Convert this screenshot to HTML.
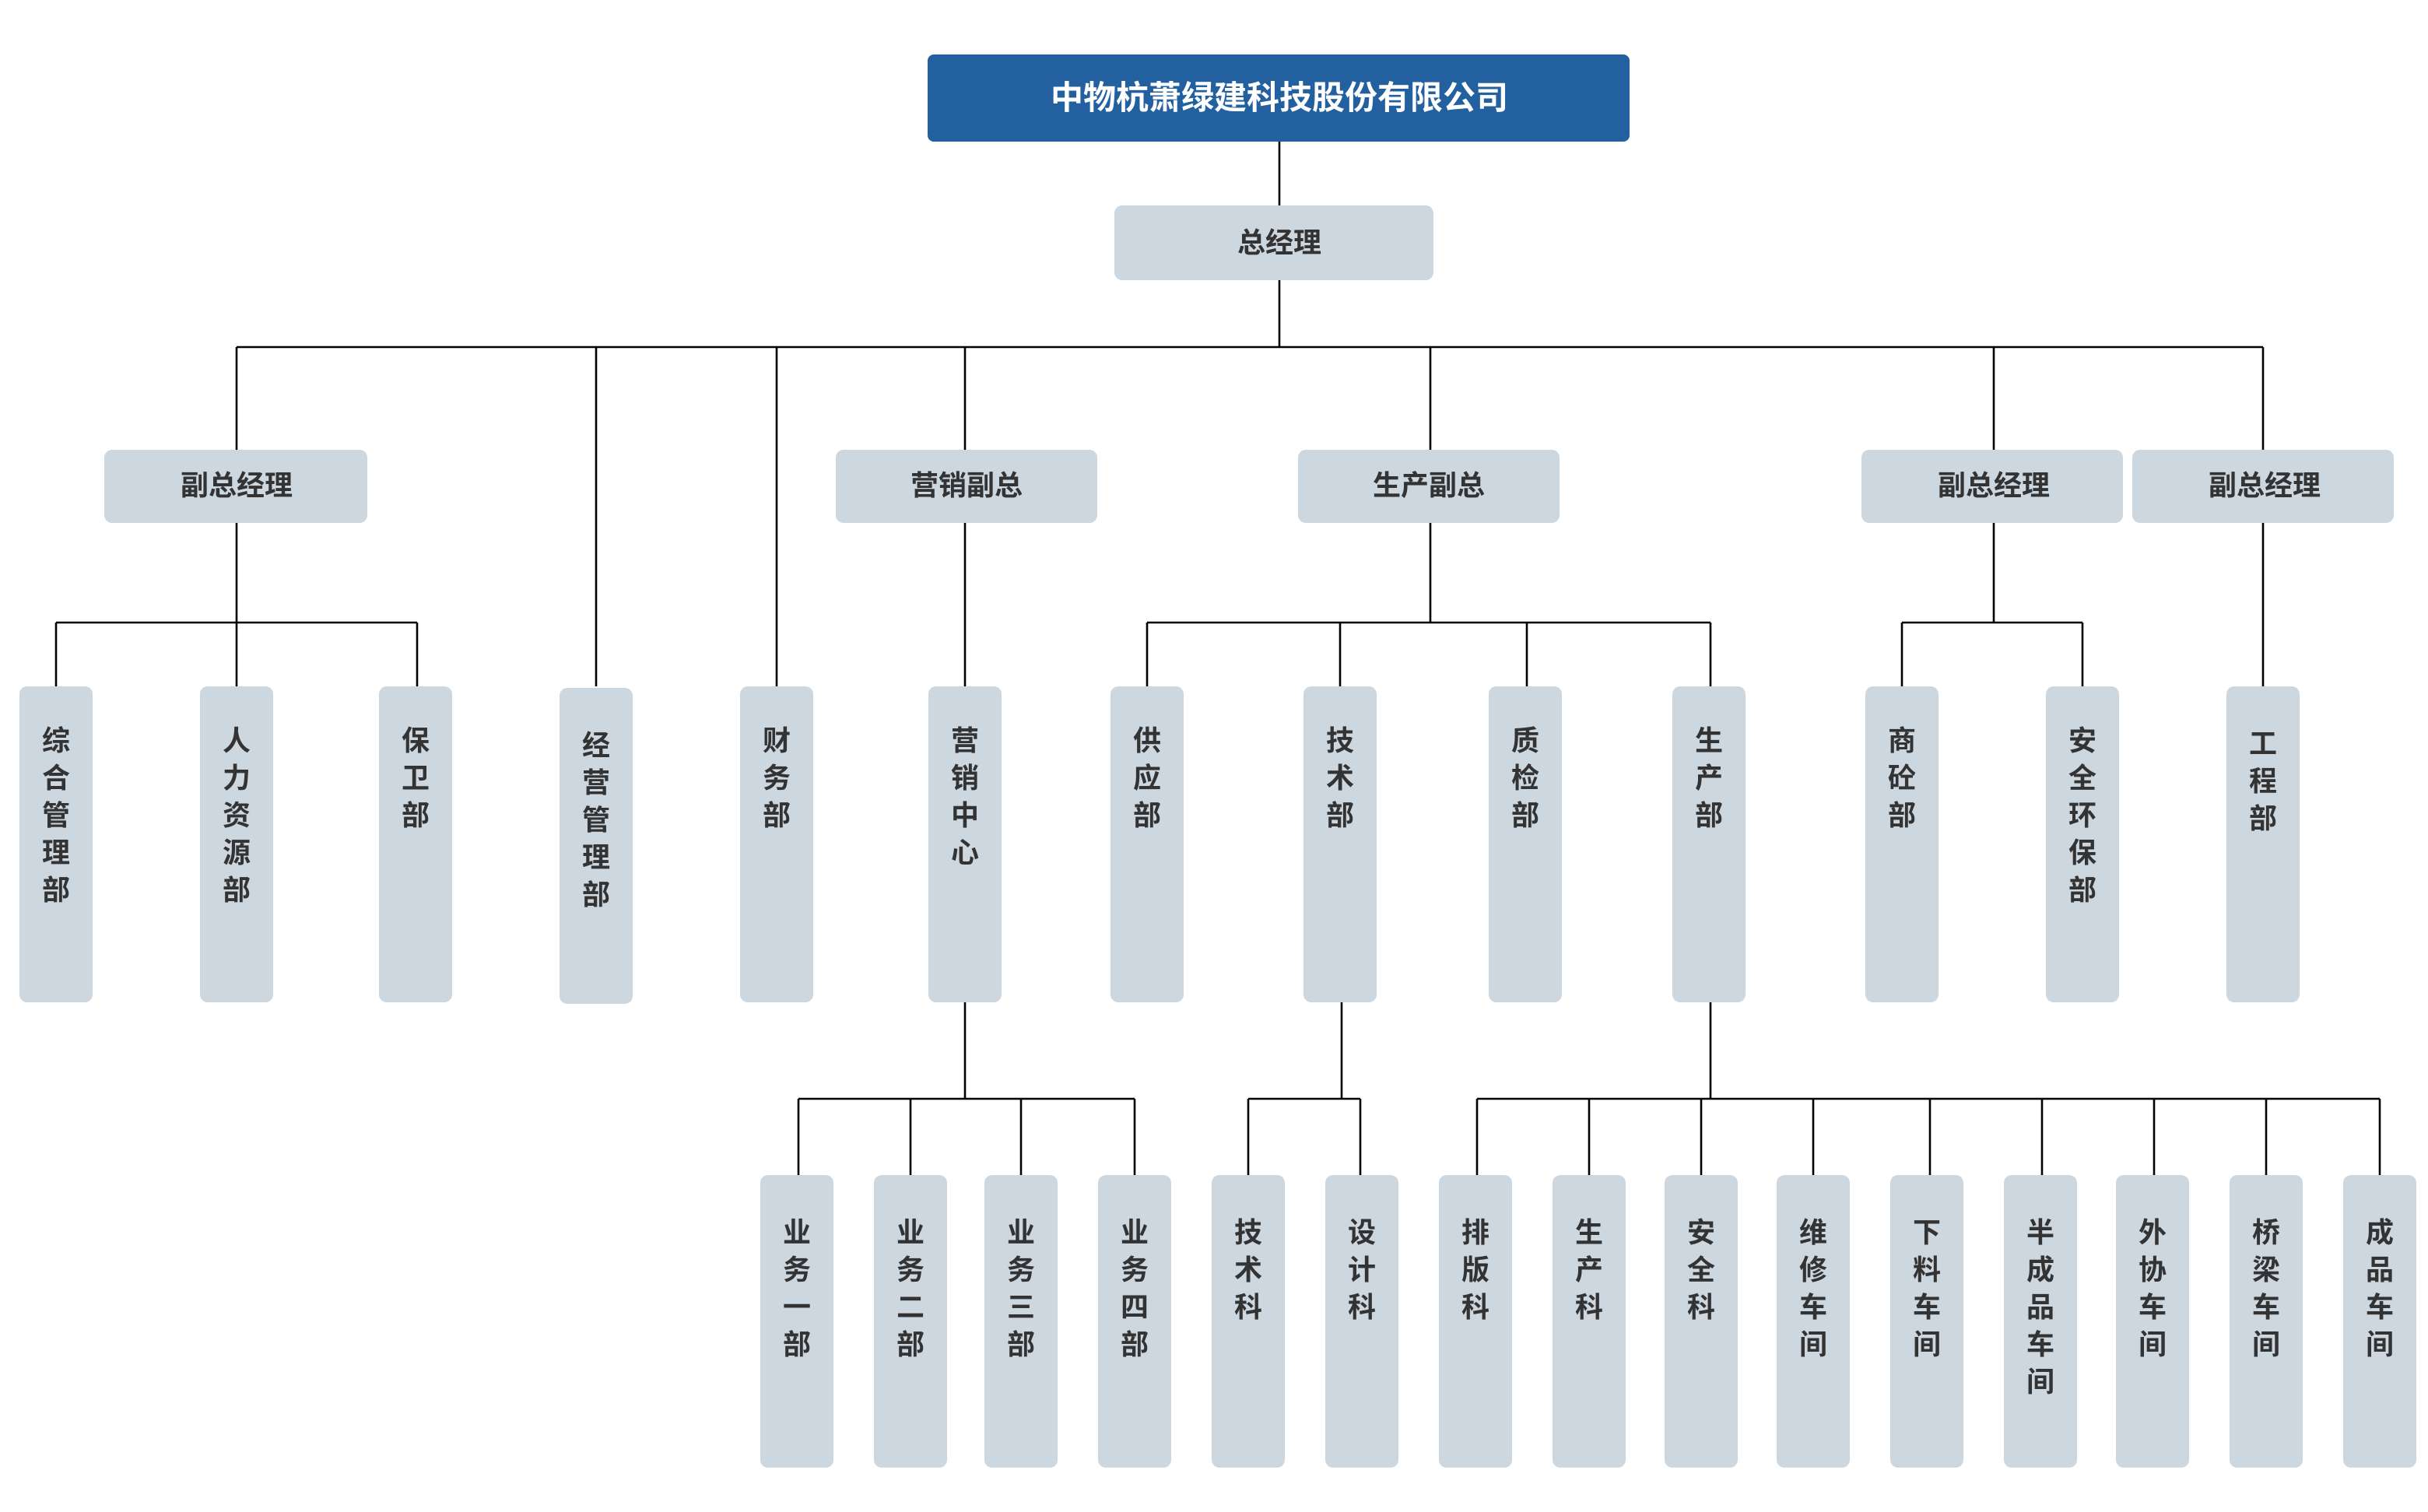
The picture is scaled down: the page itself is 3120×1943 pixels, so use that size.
<!DOCTYPE html>
<html><head><meta charset="utf-8"><style>
html,body{margin:0;padding:0;background:#fff;width:3120px;height:1943px;overflow:hidden}
svg{display:block}
text{font-family:"Liberation Sans","Noto Sans CJK SC",sans-serif;font-weight:bold;fill:#333}
</style></head><body>
<svg width="3120" height="1943" viewBox="0 0 1560 971.5" xmlns="http://www.w3.org/2000/svg">
<g stroke="#000" stroke-width="1.3" fill="none">
<line x1="822" y1="91" x2="822" y2="132"/>
<line x1="822" y1="180" x2="822" y2="223"/>
<line x1="152" y1="223" x2="1454" y2="223"/>
<line x1="152" y1="223" x2="152" y2="289"/>
<line x1="383" y1="223" x2="383" y2="441"/>
<line x1="499" y1="223" x2="499" y2="441"/>
<line x1="620" y1="223" x2="620" y2="441"/>
<line x1="919" y1="223" x2="919" y2="289"/>
<line x1="1281" y1="223" x2="1281" y2="289"/>
<line x1="1454" y1="223" x2="1454" y2="441"/>
<line x1="152" y1="336" x2="152" y2="441"/>
<line x1="36" y1="400" x2="268" y2="400"/>
<line x1="36" y1="400" x2="36" y2="441"/>
<line x1="268" y1="400" x2="268" y2="441"/>
<line x1="919" y1="336" x2="919" y2="400"/>
<line x1="737" y1="400" x2="1099" y2="400"/>
<line x1="737" y1="400" x2="737" y2="441"/>
<line x1="861" y1="400" x2="861" y2="441"/>
<line x1="981" y1="400" x2="981" y2="441"/>
<line x1="1099" y1="400" x2="1099" y2="441"/>
<line x1="1281" y1="336" x2="1281" y2="400"/>
<line x1="1222" y1="400" x2="1338" y2="400"/>
<line x1="1222" y1="400" x2="1222" y2="441"/>
<line x1="1338" y1="400" x2="1338" y2="441"/>
<line x1="620" y1="644" x2="620" y2="706"/>
<line x1="513" y1="706" x2="729" y2="706"/>
<line x1="513" y1="706" x2="513" y2="755"/>
<line x1="585" y1="706" x2="585" y2="755"/>
<line x1="656" y1="706" x2="656" y2="755"/>
<line x1="729" y1="706" x2="729" y2="755"/>
<line x1="862" y1="644" x2="862" y2="706"/>
<line x1="802" y1="706" x2="874" y2="706"/>
<line x1="802" y1="706" x2="802" y2="755"/>
<line x1="874" y1="706" x2="874" y2="755"/>
<line x1="1099" y1="644" x2="1099" y2="706"/>
<line x1="949" y1="706" x2="1529" y2="706"/>
<line x1="949" y1="706" x2="949" y2="755"/>
<line x1="1021" y1="706" x2="1021" y2="755"/>
<line x1="1093" y1="706" x2="1093" y2="755"/>
<line x1="1165" y1="706" x2="1165" y2="755"/>
<line x1="1240" y1="706" x2="1240" y2="755"/>
<line x1="1312" y1="706" x2="1312" y2="755"/>
<line x1="1384" y1="706" x2="1384" y2="755"/>
<line x1="1456" y1="706" x2="1456" y2="755"/>
<line x1="1529" y1="706" x2="1529" y2="755"/>
</g>
<rect x="596" y="35" width="451" height="56" rx="4" fill="#2260a0"/>
<text x="822" y="70" text-anchor="middle" font-size="21" style="fill:#fff">中物杭萧绿建科技股份有限公司</text>
<g fill="#cdd7e0">
<rect x="716" y="132" width="205" height="48" rx="5"/>
<rect x="67" y="289" width="169" height="47" rx="5"/>
<rect x="537" y="289" width="168" height="47" rx="5"/>
<rect x="834" y="289" width="168" height="47" rx="5"/>
<rect x="1196" y="289" width="168" height="47" rx="5"/>
<rect x="1370" y="289" width="168" height="47" rx="5"/>
</g>
<g font-size="18" text-anchor="middle">
<text x="822" y="162">总经理</text>
<text x="152" y="318">副总经理</text>
<text x="621" y="318">营销副总</text>
<text x="918" y="318">生产副总</text>
<text x="1281" y="318">副总经理</text>
<text x="1455" y="318">副总经理</text>
</g>
<g fill="#cdd7e0">
<rect x="12.5" y="441" width="47" height="203" rx="5"/>
<rect x="128.5" y="441" width="47" height="203" rx="5"/>
<rect x="243.5" y="441" width="47" height="203" rx="5"/>
<rect x="359.5" y="442" width="47" height="203" rx="5"/>
<rect x="475.5" y="441" width="47" height="203" rx="5"/>
<rect x="596.5" y="441" width="47" height="203" rx="5"/>
<rect x="713.5" y="441" width="47" height="203" rx="5"/>
<rect x="837.5" y="441" width="47" height="203" rx="5"/>
<rect x="956.5" y="441" width="47" height="203" rx="5"/>
<rect x="1074.5" y="441" width="47" height="203" rx="5"/>
<rect x="1198.5" y="441" width="47" height="203" rx="5"/>
<rect x="1314.5" y="441" width="47" height="203" rx="5"/>
<rect x="1430.5" y="441" width="47" height="203" rx="5"/>
<rect x="488.5" y="755" width="47" height="188" rx="5"/>
<rect x="561.5" y="755" width="47" height="188" rx="5"/>
<rect x="632.5" y="755" width="47" height="188" rx="5"/>
<rect x="705.5" y="755" width="47" height="188" rx="5"/>
<rect x="778.5" y="755" width="47" height="188" rx="5"/>
<rect x="851.5" y="755" width="47" height="188" rx="5"/>
<rect x="924.5" y="755" width="47" height="188" rx="5"/>
<rect x="997.5" y="755" width="47" height="188" rx="5"/>
<rect x="1069.5" y="755" width="47" height="188" rx="5"/>
<rect x="1141.5" y="755" width="47" height="188" rx="5"/>
<rect x="1214.5" y="755" width="47" height="188" rx="5"/>
<rect x="1287.5" y="755" width="47" height="188" rx="5"/>
<rect x="1359.5" y="755" width="47" height="188" rx="5"/>
<rect x="1432.5" y="755" width="47" height="188" rx="5"/>
<rect x="1505.5" y="755" width="47" height="188" rx="5"/>
</g>
<g font-size="18" text-anchor="middle">
<text y="482"><tspan x="36">综</tspan><tspan x="36" dy="24">合</tspan><tspan x="36" dy="24">管</tspan><tspan x="36" dy="24">理</tspan><tspan x="36" dy="24">部</tspan></text>
<text y="482"><tspan x="152">人</tspan><tspan x="152" dy="24">力</tspan><tspan x="152" dy="24">资</tspan><tspan x="152" dy="24">源</tspan><tspan x="152" dy="24">部</tspan></text>
<text y="482"><tspan x="267">保</tspan><tspan x="267" dy="24">卫</tspan><tspan x="267" dy="24">部</tspan></text>
<text y="485"><tspan x="383">经</tspan><tspan x="383" dy="24">营</tspan><tspan x="383" dy="24">管</tspan><tspan x="383" dy="24">理</tspan><tspan x="383" dy="24">部</tspan></text>
<text y="482"><tspan x="499">财</tspan><tspan x="499" dy="24">务</tspan><tspan x="499" dy="24">部</tspan></text>
<text y="482"><tspan x="620">营</tspan><tspan x="620" dy="24">销</tspan><tspan x="620" dy="24">中</tspan><tspan x="620" dy="24">心</tspan></text>
<text y="482"><tspan x="737">供</tspan><tspan x="737" dy="24">应</tspan><tspan x="737" dy="24">部</tspan></text>
<text y="482"><tspan x="861">技</tspan><tspan x="861" dy="24">术</tspan><tspan x="861" dy="24">部</tspan></text>
<text y="482"><tspan x="980">质</tspan><tspan x="980" dy="24">检</tspan><tspan x="980" dy="24">部</tspan></text>
<text y="482"><tspan x="1098">生</tspan><tspan x="1098" dy="24">产</tspan><tspan x="1098" dy="24">部</tspan></text>
<text y="482"><tspan x="1222">商</tspan><tspan x="1222" dy="24">砼</tspan><tspan x="1222" dy="24">部</tspan></text>
<text y="482"><tspan x="1338">安</tspan><tspan x="1338" dy="24">全</tspan><tspan x="1338" dy="24">环</tspan><tspan x="1338" dy="24">保</tspan><tspan x="1338" dy="24">部</tspan></text>
<text y="484"><tspan x="1454">工</tspan><tspan x="1454" dy="24">程</tspan><tspan x="1454" dy="24">部</tspan></text>
<text y="798"><tspan x="512">业</tspan><tspan x="512" dy="24">务</tspan><tspan x="512" dy="24">一</tspan><tspan x="512" dy="24">部</tspan></text>
<text y="798"><tspan x="585">业</tspan><tspan x="585" dy="24">务</tspan><tspan x="585" dy="24">二</tspan><tspan x="585" dy="24">部</tspan></text>
<text y="798"><tspan x="656">业</tspan><tspan x="656" dy="24">务</tspan><tspan x="656" dy="24">三</tspan><tspan x="656" dy="24">部</tspan></text>
<text y="798"><tspan x="729">业</tspan><tspan x="729" dy="24">务</tspan><tspan x="729" dy="24">四</tspan><tspan x="729" dy="24">部</tspan></text>
<text y="798"><tspan x="802">技</tspan><tspan x="802" dy="24">术</tspan><tspan x="802" dy="24">科</tspan></text>
<text y="798"><tspan x="875">设</tspan><tspan x="875" dy="24">计</tspan><tspan x="875" dy="24">科</tspan></text>
<text y="798"><tspan x="948">排</tspan><tspan x="948" dy="24">版</tspan><tspan x="948" dy="24">科</tspan></text>
<text y="798"><tspan x="1021">生</tspan><tspan x="1021" dy="24">产</tspan><tspan x="1021" dy="24">科</tspan></text>
<text y="798"><tspan x="1093">安</tspan><tspan x="1093" dy="24">全</tspan><tspan x="1093" dy="24">科</tspan></text>
<text y="798"><tspan x="1165">维</tspan><tspan x="1165" dy="24">修</tspan><tspan x="1165" dy="24">车</tspan><tspan x="1165" dy="24">间</tspan></text>
<text y="798"><tspan x="1238">下</tspan><tspan x="1238" dy="24">料</tspan><tspan x="1238" dy="24">车</tspan><tspan x="1238" dy="24">间</tspan></text>
<text y="798"><tspan x="1311">半</tspan><tspan x="1311" dy="24">成</tspan><tspan x="1311" dy="24">品</tspan><tspan x="1311" dy="24">车</tspan><tspan x="1311" dy="24">间</tspan></text>
<text y="798"><tspan x="1383">外</tspan><tspan x="1383" dy="24">协</tspan><tspan x="1383" dy="24">车</tspan><tspan x="1383" dy="24">间</tspan></text>
<text y="798"><tspan x="1456">桥</tspan><tspan x="1456" dy="24">梁</tspan><tspan x="1456" dy="24">车</tspan><tspan x="1456" dy="24">间</tspan></text>
<text y="798"><tspan x="1529">成</tspan><tspan x="1529" dy="24">品</tspan><tspan x="1529" dy="24">车</tspan><tspan x="1529" dy="24">间</tspan></text>
</g>
</svg>
</body></html>
